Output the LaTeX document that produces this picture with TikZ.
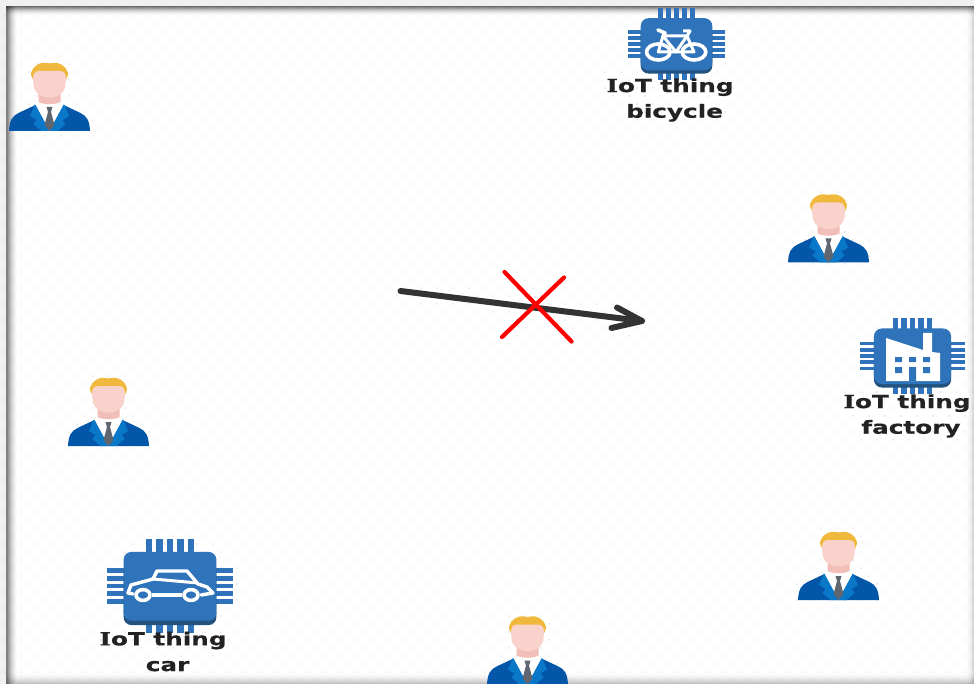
\documentclass[tikz,border=0pt]{standalone}
\usepackage{fontspec}
\setmainfont{DejaVu Sans}[BoldFeatures={FakeBold=0.5}]
\newfontfamily\slabfont{DejaVu Serif}[BoldFeatures={FakeBold=0.5}]
\definecolor{jacket}{HTML}{0356A8}
\definecolor{lapel}{HTML}{0A78C9}
\definecolor{hair}{HTML}{F0B93E}
\definecolor{skin}{HTML}{F8D2CB}
\definecolor{neck}{HTML}{F2BFB8}
\definecolor{tie}{HTML}{5F6670}
\definecolor{chipblue}{HTML}{2F73BA}
\definecolor{chipdark}{HTML}{23527F}
\definecolor{inkdark}{HTML}{333333}
\definecolor{labelink}{HTML}{222222}
\newcommand{\iotline}{{\slabfont\bfseries I}oT thing}
\tikzset{
  every picture/.style={line join=round},
  chiplabel/.style={font=\bfseries\fontsize{19}{27}\selectfont, text=labelink, align=center, inner sep=0pt, xscale=1.3, yscale=0.95},
  wline/.style={draw=white, line width=#1, fill=none},
  person/.pic={
    \fill[jacket] (-40.5,0) .. controls (-40,-11) and (-37,-15) .. (-31,-18) -- (-14,-26) -- (14,-26) -- (31,-18) .. controls (37,-15) and (40,-11) .. (40.5,0) -- cycle;
    \fill[white] (-15,-28) -- (15,-28) -- (0,0) -- cycle;
    \fill[lapel] (-14.5,-26.7) -- (-19.5,-15) -- (-13,-11) -- (-16,-7) -- (-8,0) -- (0,0) -- cycle;
    \fill[lapel] (14.5,-26.7) -- (19.5,-15) -- (13,-11) -- (16,-7) -- (8,0) -- (0,0) -- cycle;
    \fill[tie] (-3,-24) -- (3,-24) -- (1.5,-19) -- (5,-6) -- (0,0) -- (-5,-6) -- (-1.5,-19) -- cycle;
    \fill[neck] (-11,-40) -- (11,-40) -- (11,-29) .. controls (5,-26) and (-5,-26) .. (-11,-29) -- cycle;
    \fill[hair] (-12,-46) .. controls (-15,-49) and (-19,-54) .. (-18.5,-58) .. controls (-17,-65) and (-9,-69.5) .. (-3,-68) .. controls (-1,-67.5) and (1,-67.5) .. (3,-68) .. controls (9,-69.5) and (17,-65) .. (18.5,-58) .. controls (19,-54) and (15,-49) .. (13,-46) -- cycle;
    \fill[skin] (-16.5,-51) .. controls (-16.5,-57) and (-15,-60) .. (-10,-60) .. controls (-5,-60) and (5,-60) .. (10,-60) .. controls (15,-60) and (16.5,-57) .. (16.5,-51) -- (16,-47) .. controls (16,-38) and (8,-33.5) .. (0,-33.5) .. controls (-8,-33.5) and (-16,-38) .. (-16,-47) -- cycle;
  },
  chipbase/.pic={
    \foreach \p in {-25,-12.5,0,12.5,25} {
      \fill[chipblue] (\p-3.9,-76) rectangle (\p+3.9,-45);
      \fill[chipblue] (\p-3.9,45) rectangle (\p+3.9,76);
      \fill[chipblue] (-76,\p-3.9) rectangle (-45,\p+3.9);
      \fill[chipblue] (45,\p-3.9) rectangle (76,\p+3.9);
    }
    \fill[chipdark, rounded corners=8] (-56,-40) rectangle (56,63);
    \fill[chipblue, rounded corners=8] (-56,-55) rectangle (56,56);
  }
}
\begin{document}
\begin{tikzpicture}[x=1pt,y=-1pt,line cap=butt]
\useasboundingbox (0,0) rectangle (974,684);
\fill[white] (0,0) rectangle (974,684);
% frame shadow, as thin translucent strips
\foreach \i in {0,...,11} {
  \pgfmathsetmacro{\al}{0.58*(1-\i/12)*(1-\i/12)}
  \fill[black, fill opacity=\al] (6+\i,6) rectangle (7+\i,684);
}
\foreach \i in {0,...,9} {
  \pgfmathsetmacro{\al}{0.58*(1-\i/10)*(1-\i/10)}
  \fill[black, fill opacity=\al] (6,6+\i) rectangle (974,7+\i);
}
\foreach \i in {0,...,7} {
  \pgfmathsetmacro{\al}{0.16*(1-\i/8)*(1-\i/8)}
  \fill[black, fill opacity=\al] (973-\i,6) rectangle (974-\i,684);
}
\foreach \i in {0,...,11} {
  \pgfmathsetmacro{\al}{0.24*(1-\i/12)*(1-\i/12)}
  \fill[black, fill opacity=\al] (6,683-\i) rectangle (974,684-\i);
}
\fill[black!6] (0,0) rectangle (6,684) (6,0) rectangle (974,6);
% background dots
\fill[black, fill opacity=.07]
  \foreach \yy in {0,...,42} { \foreach \xx in {0,...,60} {
    (4.2+16*\xx,15.2+16*\yy) rectangle +(1.6,1.6)
    (12.2+16*\xx,7.2+16*\yy) rectangle +(1.6,1.6)
  } };
% people
\pic at (49.5,131) {person};
\pic at (828.5,262.5) {person};
\pic at (108.5,446) {person};
\pic at (838.5,600) {person};
\pic at (527.5,684.5) {person};
% chips
\begin{scope}[shift={(676.5,44)},xscale=.64,yscale=.47]
  \pic[transform shape] {chipbase};
\end{scope}
\begin{scope}[shift={(912.5,356)},xscale=.69,yscale=.5]
  \pic[transform shape] {chipbase};
\end{scope}
\begin{scope}[shift={(170,586)},xscale=.83,yscale=.62]
  \pic[transform shape] {chipbase};
\end{scope}
% bicycle icon
\draw[wline=3.6] (658.3,52) ellipse (11.8 and 8);
\draw[wline=3.6] (694,52) ellipse (11.8 and 8);
\draw[wline=3] (658.3,52) -- (663,36) -- (687,36) -- (676,52) -- cycle;
\draw[wline=3] (663,36) -- (676,52) -- (694,52) -- (687,36) -- (690,31) -- (683,31);
\draw[wline=3.6,line cap=round] (658,30) -- (665,33) -- (663,36);
% factory icon
\fill[white] (886,338) -- (923,350) -- (923,333) -- (932,333) -- (932,352) -- (940,353) -- (940,381) -- (886,381) -- cycle;
\fill[chipblue] (895,357) rectangle (902,362) (909,357) rectangle (916,362) (923,357) rectangle (930,362)
  (895,367) rectangle (902,373) (923,367) rectangle (930,373) (909,367) rectangle (916,381);
% car icon
\draw[wline=3.4,line cap=round] (133,594) -- (128,593) -- (131,585) -- (153,579) -- (157,571) -- (187,571) -- (198,584) -- (207,587) -- (213,593) -- (201,595);
\draw[wline=3] (153,579) -- (198,583);
\draw[wline=3.4] (152,595) -- (182,595);
\draw[wline=3.6] (143,595) ellipse (7 and 5.4);
\draw[wline=3.6] (191,595) ellipse (7 and 5.4);
% labels
\node[chiplabel] (bike) at (670,100) {\iotline\\ \hspace*{7pt}bicycle};
\node[chiplabel] (fac) at (907,416) {\iotline\\ \hspace*{6pt}factory};
\node[chiplabel] (car) at (163,651.5) {\iotline\\ \hspace*{7pt}car};
% arrow and cross
\coordinate (a1) at (400.5,291);
\coordinate (a2) at (642,321);
\coordinate (t1) at (617,307.5);
\coordinate (t2) at (611.5,328);
\draw[inkdark,line width=6pt,line cap=round] (a1) -- (a2);
\draw[inkdark,line width=6pt,line cap=round] (t1) -- (a2) -- (t2);
\coordinate (c1) at (504.5,272);
\coordinate (c2) at (571.5,341.5);
\coordinate (c3) at (564,277.5);
\coordinate (c4) at (502,337);
\draw[red,line width=4.2pt,line cap=round] (c1) -- (c2);
\draw[red,line width=4.2pt,line cap=round] (c3) -- (c4);
\end{tikzpicture}
\end{document}
